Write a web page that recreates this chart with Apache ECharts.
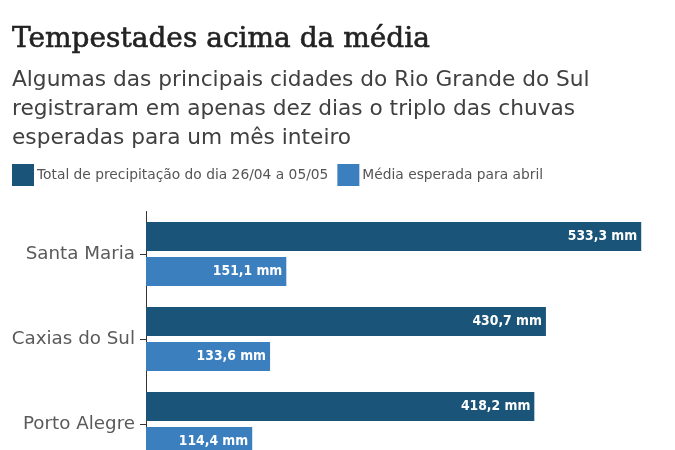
<!DOCTYPE html>
<html>
<head>
<meta charset="utf-8">
<script src="https://cdn.jsdelivr.net/npm/echarts@6/dist/echarts.min.js"></script>
<style>
html,body{margin:0;padding:0;background:#fff;}
#c{width:675px;height:450px;}
</style>
</head>
<body>
<div id="c"></div>
<script>
var cities = ['Santa Maria', 'Caxias do Sul', 'Porto Alegre'];
var totalRain = [533.3, 430.7, 418.2];
var aprilAvg = [151.1, 133.6, 114.4];
var seriesNames = ['Total de precipitação do dia 26/04 a 05/05', 'Média esperada para abril'];
var titleText = 'Tempestades acima da média';
var subtitleText = 'Algumas das principais cidades do Rio Grande do Sul\nregistraram em apenas dez dias o triplo das chuvas\nesperadas para um mês inteiro';

var fmt = function (p) { return p.value.toFixed(1).replace('.', ',') + ' mm'; };
var labelStyle = {
  show: true, position: 'insideRight', distance: 4, formatter: fmt,
  color: '#ffffff', fontFamily: 'DejaVu Sans Condensed, DejaVu Sans', fontWeight: 'bold', fontSize: 13.8
};

var chart = echarts.init(document.getElementById('c'), null, {renderer: 'canvas'});
chart.setOption({
  backgroundColor: '#ffffff',
  animation: false,
  title: [
    { text: titleText, left: 12, top: 26, padding: 0,
      textStyle: { fontFamily: 'DejaVu Serif', fontSize: 28, fontWeight: 'normal', color: '#222222',
                   textBorderColor: '#222222', textBorderWidth: 0.6 } },
    { text: subtitleText, left: 12, top: 66, padding: 0,
      textStyle: { fontFamily: 'DejaVu Sans', fontSize: 21.7, fontWeight: 'normal', color: '#404040', lineHeight: 29 } }
  ],
  legend: {
    left: 12, top: 164, padding: 0, itemWidth: 22, itemHeight: 22, itemGap: 9, icon: 'rect',
    textStyle: { fontFamily: 'DejaVu Sans', fontSize: 13.8, color: '#555555', padding: [0, 0, 0, -2] },
    data: seriesNames
  },
  grid: { left: 146, right: 9, top: 211.5, height: 255, containLabel: false, outerBoundsMode: 'none' },
  xAxis: {
    type: 'value', min: 0, max: 560,
    axisLine: { show: false }, axisTick: { show: false }, axisLabel: { show: false }, splitLine: { show: false }
  },
  yAxis: {
    type: 'category', inverse: true, data: cities,
    axisLine: { show: true, lineStyle: { color: '#333333', width: 1 } },
    axisTick: { show: true, alignWithLabel: true, length: 6, lineStyle: { color: '#333333' } },
    axisLabel: { fontFamily: 'DejaVu Sans', fontSize: 18.3, color: '#5a5a5a', margin: 11 }
  },
  series: [
    { name: seriesNames[0], type: 'bar', data: totalRain, barWidth: 29, barGap: '20%',
      itemStyle: { color: '#1a5479' }, label: labelStyle },
    { name: seriesNames[1], type: 'bar', data: aprilAvg, barWidth: 29,
      itemStyle: { color: '#3b7fbf' }, label: labelStyle }
  ]
});
</script>
</body>
</html>
